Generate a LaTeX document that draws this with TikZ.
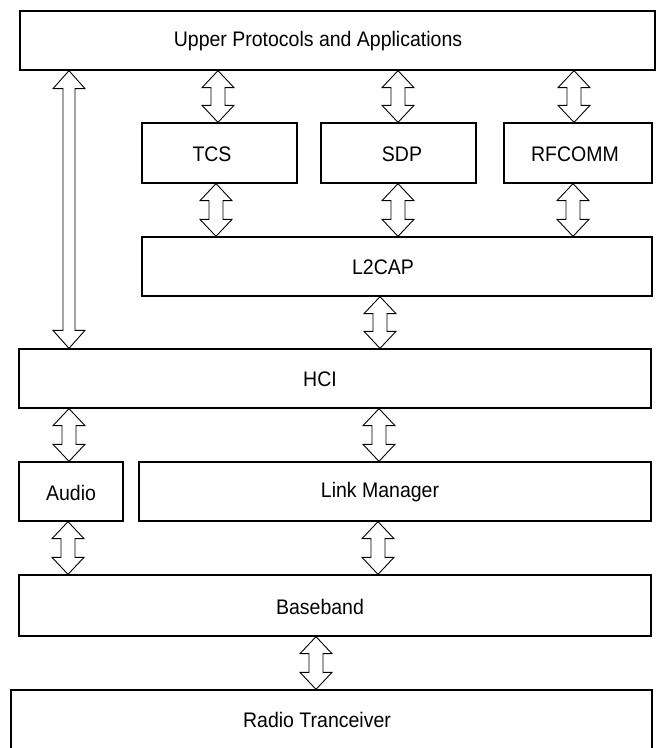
\documentclass[tikz,border=0pt]{standalone}
\usepackage{fontspec}
\setmainfont{Liberation Sans}
\usetikzlibrary{calc}
\tikzset{
  box/.style={draw=black, line width=1.3pt, fill=white, inner sep=0pt},
  lbl/.style={inner sep=0pt, font=\fontsize{19.5}{22}\selectfont},
  arr/.style={draw=black, line width=0.9pt, fill=white, line join=miter}
}
% #1 x, #2 upper node, #3 lower node, #4 head half width, #5 shaft half width, #6 head height
\newcommand\dblarrow[6]{%
  \draw[arr] let \p1=(#2.south), \p2=(#3.north) in
    ({#1pt},{\y1}) -- ++({#4pt},{-#6pt}) -- ({#1pt+#5pt},{\y1-#6pt})
    -- ({#1pt+#5pt},{\y2+#6pt}) -- ({#1pt+#4pt},{\y2+#6pt}) -- ({#1pt},{\y2})
    -- ({#1pt-#4pt},{\y2+#6pt}) -- ({#1pt-#5pt},{\y2+#6pt})
    -- ({#1pt-#5pt},{\y1-#6pt}) -- ({#1pt-#4pt},{\y1-#6pt}) -- cycle;}
% #1 name, #2 left, #3 top, #4 right, #5 bottom, #6 text, #7 text x
\newcommand\blk[7]{%
  \node[box, minimum width={(#4-#2)*1pt}, minimum height={(#5-#3)*1pt}]
    (#1) at ({(#2+#4)/2},{(#3+#5)/2}) {};
  \node[lbl] (#1-t) at (#7,{(#3+#5)/2+1}) {\scalebox{1}[1.08]{#6}};}
\begin{document}
\begin{tikzpicture}[x=1pt,y=-1pt]
\useasboundingbox (0,0) rectangle (657,748);
\clip (0,0) rectangle (657,748);
\fill[white] (0,0) rectangle (657,748);
\blk{upper}{20}{11}{655}{70}{Upper Protocols and Applications}{318}
\blk{tcs}{142}{123}{297}{183}{TCS}{212}
\blk{sdp}{321}{123}{476}{183}{SDP}{402}
\blk{rfcomm}{504}{123}{652}{183}{RFCOMM}{575}
\blk{l2cap}{142}{237}{652}{296}{L2CAP}{383}
\blk{hci}{19}{349}{651}{408}{HCI}{320}
\blk{audio}{19}{462}{123}{521}{Audio}{71}
\blk{lm}{139}{462}{651}{521}{Link Manager}{380}
\blk{bb}{19}{575}{651}{636}{Baseband}{320}
\node[box, minimum width=641pt, minimum height=80pt] (radio) at (331.5,730) {};
\node[lbl] (radio-t) at (317,720) {\scalebox{1}[1.08]{Radio Tranceiver}};
\dblarrow{69}{upper}{hci}{16}{6}{18}
\dblarrow{218}{upper}{tcs}{16}{7}{17}
\dblarrow{398}{upper}{sdp}{16}{7}{17}
\dblarrow{574}{upper}{rfcomm}{16}{7}{17}
\dblarrow{216}{tcs}{l2cap}{16}{7}{17}
\dblarrow{398}{sdp}{l2cap}{16}{7}{17}
\dblarrow{573}{rfcomm}{l2cap}{16}{7}{17}
\dblarrow{380}{l2cap}{hci}{16}{7}{17}
\dblarrow{69}{hci}{audio}{16}{7}{17}
\dblarrow{379}{hci}{lm}{16}{7}{17}
\dblarrow{68}{audio}{bb}{16}{7}{17}
\dblarrow{378}{lm}{bb}{16}{7}{17}
\dblarrow{316}{bb}{radio}{16}{7}{17}
\end{tikzpicture}
\end{document}
